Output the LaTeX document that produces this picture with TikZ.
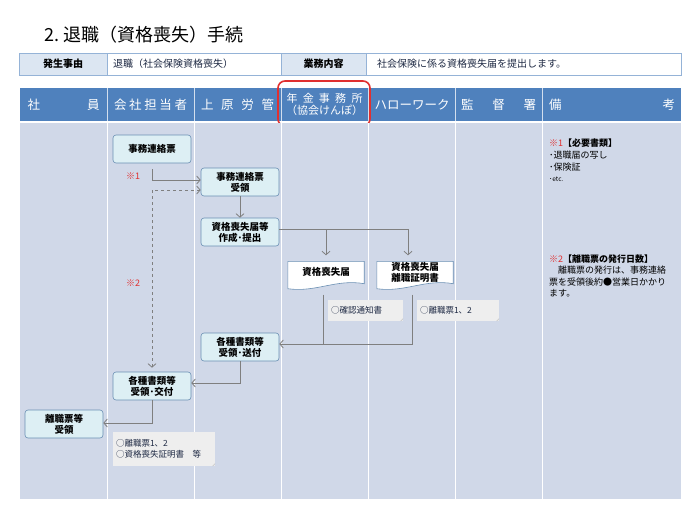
\documentclass[tikz,border=0pt]{standalone}
\usepackage{fontspec}
\setmainfont{Noto Sans CJK JP}
\usetikzlibrary{arrows.meta}
\definecolor{hdr}{HTML}{4F81BD}
\definecolor{bodyc}{HTML}{D0D8E8}
\definecolor{lbl}{HTML}{DCE6F2}
\definecolor{bord}{HTML}{95B3D7}
\definecolor{nodefill}{HTML}{DDEFF4}
\definecolor{nodebord}{HTML}{6A8FB3}
\definecolor{arrc}{HTML}{7F7F7F}
\definecolor{notefill}{HTML}{EEEEEE}
\definecolor{redc}{HTML}{E03030}
\definecolor{txt}{HTML}{1F2A44}
\tikzset{
  stepbox/.style={rounded corners=3pt, draw=nodebord, fill=nodefill, line width=0.6pt,
    minimum width=78pt, minimum height=28pt, inner sep=1pt, align=center,
    font=\bfseries\fontsize{9.5}{11}\selectfont},
  docnode/.style={minimum width=76pt, minimum height=27pt, inner sep=1pt, align=center,
    font=\bfseries\fontsize{9.5}{11}\selectfont},
  docline/.style={draw=nodebord, fill=white, line width=0.6pt},
  notebox/.style={fill=notefill, inner sep=2pt, align=left, text=txt,
    font=\fontsize{8.5}{11}\selectfont},
  conn/.style={draw=arrc, line width=0.8pt, -{Straight Barb[length=3.5pt,width=8pt]}},
  plainconn/.style={draw=arrc, line width=0.8pt},
  hdrtext/.style={text=white, font=\fontsize{12.5}{13}\selectfont, inner sep=0pt},
  infotext/.style={font=\fontsize{10}{11}\selectfont, inner sep=0pt, text=txt},
  remark/.style={font=\fontsize{9}{10}\selectfont, inner sep=0pt, anchor=west, text=black},
  redmark/.style={font=\fontsize{9}{10}\selectfont, text=redc, inner sep=0pt},
}
\begin{document}
\begin{tikzpicture}[x=1pt,y=-1pt]
\useasboundingbox (0,0) rectangle (700,525);
\fill[white] (0,0) rectangle (700,525);

% title
\node[anchor=west, inner sep=0pt, font=\fontsize{18}{20}\selectfont] (title) at (44,35) {2.\ 退職（資格喪失）手続};

% info row
\draw[bord, fill=lbl, line width=0.7pt] (19,53) rectangle (107,75);
\draw[bord, fill=white, line width=0.7pt] (107,53) rectangle (281,75);
\draw[bord, fill=lbl, line width=0.7pt] (281,53) rectangle (366,75);
\draw[bord, fill=white, line width=0.7pt] (366,53) rectangle (681,75);
\node[infotext, font=\bfseries\fontsize{10}{11}\selectfont, text=black] (i1) at (63,64) {発生事由};
\node[infotext, anchor=west] (i2) at (113,64) {退職（社会保険資格喪失）};
\node[infotext, font=\bfseries\fontsize{10}{11}\selectfont, text=black] (i3) at (323.5,64) {業務内容};
\node[infotext, anchor=west] (i4) at (377,64) {社会保険に係る資格喪失届を提出します。};

% header
\fill[hdr] (20,88) rectangle (681,121);
\foreach \x in {107,194,281,368,455,542} \draw[white!75!hdr, line width=0.8pt] (\x,88) -- (\x,121);
\node[hdrtext] (h1) at (63.5,104.5) {\makebox[72pt][s]{社\hfill 員}};
\node[hdrtext] (h2) at (150.5,104.5) {\makebox[73pt][s]{会\hfill 社\hfill 担\hfill 当\hfill 者}};
\node[hdrtext] (h3) at (237.5,104.5) {\makebox[73pt][s]{上\hfill 原\hfill 労\hfill 管}};
\node[hdrtext, align=center, font=\fontsize{11}{12}\selectfont] (h4) at (324.5,104.5) {\makebox[76pt][s]{年\hfill 金\hfill 事\hfill 務\hfill 所}\\（協会けんぽ）};
\node[hdrtext] (h5) at (412,104.5) {\makebox[75pt][s]{ハ\hfill ロ\hfill ー\hfill ワ\hfill ー\hfill ク}};
\node[hdrtext] (h6) at (498.5,104.5) {\makebox[75pt][s]{監\hfill 督\hfill 署}};
\node[hdrtext] (h7) at (612,104.5) {\makebox[126pt][s]{備\hfill 考}};
\draw[redc, line width=1.6pt, rounded corners=7pt] (278,81) rectangle (370,126);

% body
\fill[bodyc] (20,123) rectangle (681,499);
\foreach \x in {107,194,281,368,455,542} \draw[white, line width=0.8pt] (\x,123) -- (\x,499);

% process nodes
\node[stepbox] (renraku) at (152,149) {事務連絡票};
\node[stepbox] (juryo) at (240,182) {事務連絡票\\受領};
\node[stepbox] (sakusei) at (240,232) {資格喪失届等\\作成･提出};
\node[docnode] (doc1) at (326,275) {};
\node[docnode] (doc2) at (415,275) {};
\node[stepbox] (souhu) at (240,347) {各種書類等\\受領･送付};
\node[stepbox] (koufu) at (152,386) {各種書類等\\受領･交付};
\node[stepbox] (rishoku) at (64,424) {離職票等\\受領};

% document outlines
\foreach \d in {doc1,doc2}{
  \draw[docline] (\d.north west) -- (\d.north east) -- ([yshift=5pt]\d.south east)
    .. controls ([xshift=-28pt,yshift=10pt]\d.south east) and ([xshift=28pt,yshift=-4pt]\d.south west) .. (\d.south west) -- cycle;
}
\node[docnode, yshift=3pt] (doc1t) at (doc1) {資格喪失届};
\node[docnode, yshift=3pt] (doc2t) at (doc2) {資格喪失届\\離職証明書};

% notes
\node[notebox, minimum width=75pt, minimum height=21pt, text width=69pt] (note1) at (365.5,310.5) {○確認通知書};
\node[notebox, minimum width=82pt, minimum height=21pt, text width=76pt] (note2) at (458,310.5) {○離職票1、2};
\node[notebox, minimum width=102pt, minimum height=34pt, text width=96pt] (note3) at (164,449) {○離職票1、2\\○資格喪失証明書　等};
\foreach \n in {note1,note2,note3}{
  \fill[black!25] ([xshift=-3pt]\n.south east) -- ([yshift=3pt]\n.south east) -- ([xshift=-1pt,yshift=1pt]\n.south east) -- cycle;
}

% marks
\node[redmark] (m1) at (133,176) {※1};
\node[redmark] (m2) at (133,283) {※2};

% connectors
\draw[conn] ([yshift=-6pt]renraku.south) |- ([yshift=2pt]juryo.west);
\draw[plainconn, dashed, {Straight Barb[length=3.5pt,width=8pt]}-{Straight Barb[length=3.5pt,width=8pt]}] ([yshift=-8pt]juryo.west) -| ([yshift=4pt]koufu.north);
\draw[conn] (juryo) -- (sakusei);
\draw[conn] ([yshift=3pt]sakusei.east) -| ([xshift=-7pt,yshift=6pt]doc2.north);
\draw[conn] ([yshift=3pt]sakusei.east -| doc1.north) -- ([yshift=6pt]doc1.north);
\coordinate (jn) at ([xshift=-3pt]doc1.south |- souhu.east);
\draw[conn] ([xshift=-3pt,yshift=-6pt]doc2.south) |- ([yshift=3pt]souhu.east);
\draw[plainconn] ([xshift=-3pt,yshift=-6pt]doc1.south) -- ([yshift=3pt]jn);
\draw[conn] (souhu.south) |- ([yshift=3pt]koufu.east);
\draw[conn] (koufu.south) |- ([yshift=1pt]rishoku.east);

% remarks
\node[remark] (r1) at (549,143) {\textcolor{redc}{※1}\textbf{【必要書類】}};
\node[remark] (r2) at (549,155) {･退職届の写し};
\node[remark] (r3) at (549,167) {･保険証};
\node[remark, font=\fontsize{6.5}{8}\selectfont] (r4) at (549,179) {･etc.};
\node[remark] (r5) at (549,259) {\textcolor{redc}{※2}\textbf{【離職票の発行日数】}};
\node[remark, anchor=north west, align=left, font=\fontsize{9}{11.5}\selectfont] (r6) at (549,266) {　離職票の発行は、事務連絡\\票を受領後約●営業日かかり\\ます。};
\end{tikzpicture}
\end{document}
